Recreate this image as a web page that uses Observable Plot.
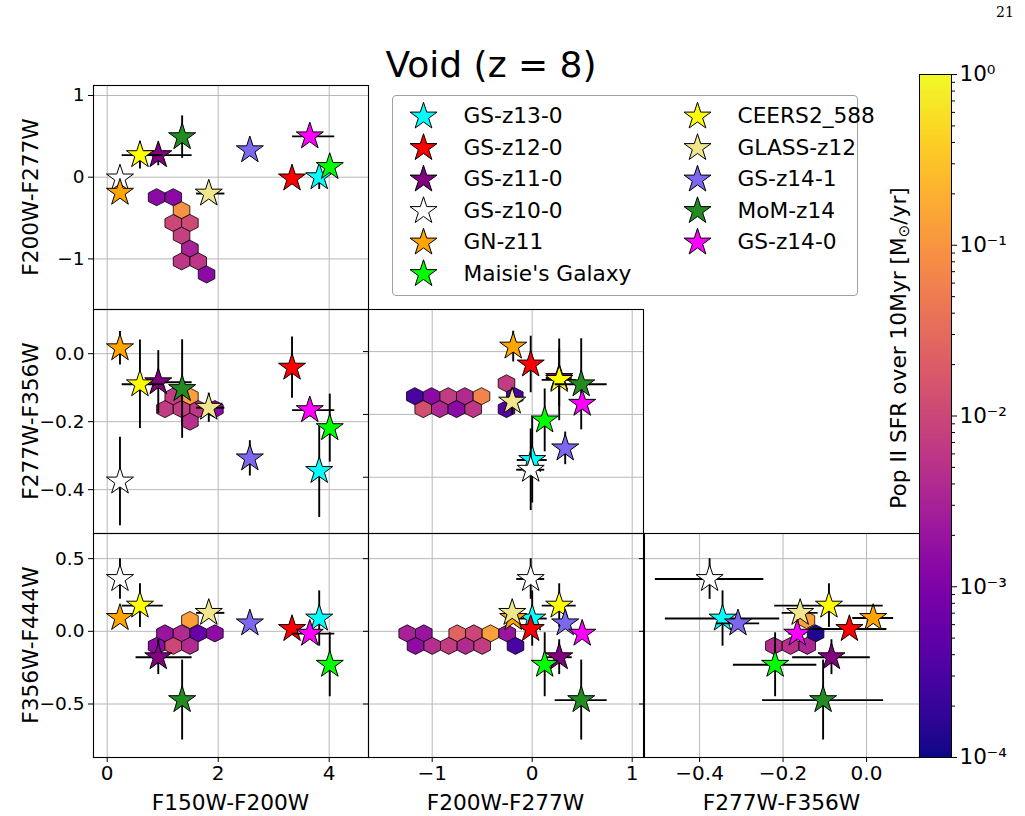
<!DOCTYPE html>
<html>
<head>
<meta charset="utf-8">
<script src="https://cdn.jsdelivr.net/npm/d3@7"></script>
<script src="https://cdn.jsdelivr.net/npm/@observablehq/plot@0.6"></script>
<style>
  body { margin: 0; background: #fff; }
  #fig { position: relative; width: 1025px; height: 816px; overflow: hidden; font-family: "DejaVu Sans", sans-serif; color: #000; }
  #fig > * { position: absolute; }
  .lbl { white-space: nowrap; line-height: 1; transform-origin: 50% 50%; }
  .legend-box { border: 1px solid #a0a0a0; border-radius: 4px; background: rgba(255,255,255,0.8); box-sizing: border-box; }
</style>
</head>
<body>
<div id="fig"></div>
<script>
// ---- Observed galaxies (legend order) ----
const galaxies = ["GS-z13-0", "GS-z12-0", "GS-z11-0", "GS-z10-0", "GN-z11", "Maisie's Galaxy",
                  "CEERS2_588", "GLASS-z12", "GS-z14-1", "MoM-z14", "GS-z14-0"];
const galaxyColors = ["#00ffff", "#ff0000", "#800080", "#ffffff", "#ffa500", "#00ff00",
                      "#ffff00", "#f0e68c", "#7b68ee", "#228b22", "#ff00ff"];

// colours (mag) and their uncertainties
const f150_f200      = [3.82, 3.33, 0.92, 0.23, 0.23, 4.01, 0.59, 1.83, 2.57, 1.35, 3.65];
const f150_f200_errLo = [0.05, 0.05, 0.40, 0.05, 0.05, 0.05, 0.32, 0.22, 0.05, 0.05, 0.31];
const f150_f200_errHi = [0.05, 0.05, 0.61, 0.05, 0.05, 0.05, 0.42, 0.29, 0.05, 0.05, 0.45];
const f200_f277      = [0.00, -0.015, 0.27, -0.015, -0.19, 0.125, 0.27, -0.20, 0.33, 0.49, 0.50];
const f200_f277_err  = [0.15, 0.04, 0.13, 0.14, 0.04, 0.04, 0.17, 0.05, 0.04, 0.26, 0.04];
const f277_f356      = [-0.345, -0.041, -0.084, -0.376, 0.016, -0.219, -0.090, -0.159, -0.308, -0.104, -0.166];
const f277_f356_err  = [0.137, 0.090, 0.093, 0.130, 0.049, 0.100, 0.130, 0.043, 0.052, 0.145, 0.020];
const f356_f444      = [0.088, 0.016, -0.178, 0.360, 0.092, -0.230, 0.177, 0.127, 0.055, -0.473, -0.016];
const f356_f444_err  = [0.19, 0.04, 0.12, 0.14, 0.04, 0.22, 0.15, 0.04, 0.04, 0.275, 0.03];

// ---- Simulated void galaxies, hex-binned: [x colour, y colour, Pop II SFR (Msun/yr)] ----
const hexF150F200vsF200F277 = [
  [0.89, -0.245, 1.4e-3], [1.19, -0.245, 1.4e-3],
  [1.34, -0.405, 9e-2],
  [1.19, -0.56, 1.0e-2], [1.49, -0.56, 1.1e-2],
  [1.34, -0.715, 8e-3],
  [1.49, -0.875, 3e-3],
  [1.34, -1.03, 6e-3], [1.64, -1.03, 6e-3],
  [1.79, -1.19, 1.4e-3]
];
const hexF150F200vsF277F356 = [
  [1.19, -0.126, 7e-3], [1.49, -0.126, 1.3e-1],
  [1.04, -0.163, 7e-3], [1.34, -0.163, 7e-3], [1.64, -0.163, 6e-3], [1.94, -0.163, 1.5e-3],
  [1.49, -0.200, 5e-3]
];
const hexF200F277vsF277F356 = [
  [-0.257, -0.101, 7e-3],
  [-1.174, -0.142, 3e-4], [-1.007, -0.142, 1.4e-3], [-0.840, -0.142, 7e-3], [-0.674, -0.142, 4e-3],
  [-0.507, -0.142, 6.3e-2], [-0.174, -0.142, 3e-4],
  [-1.090, -0.183, 1.3e-2], [-0.924, -0.183, 3.5e-3], [-0.757, -0.183, 1.4e-3], [-0.590, -0.183, 6e-3],
  [-0.257, -0.183, 4e-4]
];
const hexF150F200vsF356F444 = [
  [1.49, 0.078, 1.3e-1],
  [1.04, -0.014, 2e-3], [1.34, -0.014, 4e-3], [1.64, -0.014, 6e-4], [1.94, -0.014, 1.5e-3],
  [0.89, -0.100, 1.5e-3], [1.19, -0.100, 1.0e-2], [1.49, -0.100, 4e-3]
];
const hexF200F277vsF356F444 = [
  [-1.250, -0.014, 3e-3], [-1.084, -0.014, 2e-3], [-0.750, -0.014, 2.5e-2], [-0.584, -0.014, 1.0e-2],
  [-0.417, -0.014, 1.3e-1], [-0.250, -0.014, 2e-3],
  [-1.167, -0.100, 1.5e-3], [-1.000, -0.100, 4.5e-3], [-0.834, -0.100, 7e-3], [-0.667, -0.100, 4e-3],
  [-0.500, -0.100, 7e-3], [-0.167, -0.100, 3e-4]
];
const hexF277F356vsF356F444 = [
  [-0.144, 0.078, 1.3e-1],
  [-0.122, -0.014, 1.3e-4],
  [-0.222, -0.100, 4.5e-3], [-0.182, -0.100, 5e-3], [-0.142, -0.100, 3.5e-3]
];

// ---- Axis labels / ticks ----
const colourNames = {c1: "F150W-F200W", c2: "F200W-F277W", c3: "F277W-F356W", c4: "F356W-F444W"};
const cbarMajor = [-4, -3, -2, -1, 0];

// ---- table built from the arrays ----
const rows = galaxies.map((name, i) => ({
  name, color: galaxyColors[i],
  c1: f150_f200[i], c1Lo: f150_f200[i] - f150_f200_errLo[i], c1Hi: f150_f200[i] + f150_f200_errHi[i],
  c2: f200_f277[i], c2Lo: f200_f277[i] - f200_f277_err[i], c2Hi: f200_f277[i] + f200_f277_err[i],
  c3: f277_f356[i], c3Lo: f277_f356[i] - f277_f356_err[i], c3Hi: f277_f356[i] + f277_f356_err[i],
  c4: f356_f444[i], c4Lo: f356_f444[i] - f356_f444_err[i], c4Hi: f356_f444[i] + f356_f444_err[i]
}));

const fig = document.getElementById("fig");
const FONT = "DejaVu Sans";
const gridColor = "#b8b8b8";
const TICK_SIZE = 18.5, LABEL_SIZE = 21.7;

// matplotlib-style hexbin cell: pointy-top hexagon, slightly taller than wide
const hexSymbol = {
  draw(context, size) {
    const rx = Math.sqrt(size / Math.PI), ry = rx * 1.03;
    context.moveTo(0, -ry);
    context.lineTo(rx, -ry / 2);
    context.lineTo(rx, ry / 2);
    context.lineTo(0, ry);
    context.lineTo(-rx, ry / 2);
    context.lineTo(-rx, -ry / 2);
    context.closePath();
  }
};

const colX = [93, 368, 644], rowY = [85, 309, 533];
const PW = 275, PH = 224;

const fmtInt = d3.format("d"), fmt1 = d3.format(".1f");

const panels = [
  {row: 0, col: 0, x: "c1", y: "c2", xDomain: [-0.247, 4.708], yDomain: [-1.619, 1.122],
   xTicks: [0, 2, 4], yTicks: [-1, 0, 1], xFmt: fmtInt, yFmt: fmtInt, hexes: hexF150F200vsF200F277},
  {row: 1, col: 0, x: "c1", y: "c3", xDomain: [-0.247, 4.708], yDomain: [-0.529, 0.130],
   xTicks: [0, 2, 4], yTicks: [-0.4, -0.2, 0], xFmt: fmtInt, yFmt: fmt1, hexes: hexF150F200vsF277F356},
  {row: 1, col: 1, x: "c2", y: "c3", xDomain: [-1.637, 1.113], yDomain: [-0.579, 0.134],
   xTicks: [-1, 0, 1], yTicks: [-0.4, -0.2, 0], xFmt: fmtInt, yFmt: fmt1, hexes: hexF200F277vsF277F356},
  {row: 2, col: 0, x: "c1", y: "c4", xDomain: [-0.247, 4.708], yDomain: [-0.868, 0.673],
   xTicks: [0, 2, 4], yTicks: [-0.5, 0, 0.5], xFmt: fmtInt, yFmt: fmt1, hexes: hexF150F200vsF356F444},
  {row: 2, col: 1, x: "c2", y: "c4", xDomain: [-1.637, 1.113], yDomain: [-0.868, 0.673],
   xTicks: [-1, 0, 1], yTicks: [-0.5, 0, 0.5], xFmt: fmtInt, yFmt: fmt1, hexes: hexF200F277vsF356F444},
  {row: 2, col: 2, x: "c3", y: "c4", xDomain: [-0.532, 0.127], yDomain: [-0.868, 0.673],
   xTicks: [-0.4, -0.2, 0], yTicks: [-0.5, 0, 0.5], xFmt: fmt1, yFmt: fmt1, hexes: hexF277F356vsF356F444}
];

function place(el, left, top) {
  el.style.left = left + "px";
  el.style.top = top + "px";
  fig.append(el);
  return el;
}

function drawPanel(p) {
  const ml = p.col === 0 ? 70 : 10, mr = 2, mt = 2, mb = p.row === 2 ? 40 : 2;
  const marks = [
    Plot.gridX(p.xTicks, {stroke: gridColor, strokeOpacity: 1, strokeWidth: 1}),
    Plot.gridY(p.yTicks, {stroke: gridColor, strokeOpacity: 1, strokeWidth: 1}),
    Plot.dot(p.hexes, {x: d => d[0], y: d => d[1], fill: d => d[2], symbol: hexSymbol, r: 8.3,
                       stroke: "black", strokeWidth: 0.8})
  ];
  for (const g of rows) {
    marks.push(
      Plot.ruleY([g], {y: p.y, x1: p.x + "Lo", x2: p.x + "Hi", stroke: "black", strokeWidth: 1.9}),
      Plot.ruleX([g], {x: p.x, y1: p.y + "Lo", y2: p.y + "Hi", stroke: "black", strokeWidth: 1.9}),
      Plot.dot([g], {x: p.x, y: p.y, symbol: "star", r: 8.5, fill: g.color, stroke: "black", strokeWidth: 1})
    );
  }
  marks.push(
    Plot.frame({stroke: "black", strokeWidth: 1.1}),
    Plot.axisY(p.yTicks, {anchor: "left", tickSize: 5, tickPadding: 4, label: null,
                          tickFormat: p.col === 0 ? p.yFmt : () => "", fontSize: TICK_SIZE})
  );
  if (p.row === 2) {
    marks.push(Plot.axisX(p.xTicks, {anchor: "bottom", tickSize: 5, tickPadding: 3, label: null,
                                     tickFormat: p.xFmt, fontSize: 20}));
  }
  const svg = Plot.plot({
    width: PW + ml + mr, height: PH + mt + mb,
    marginLeft: ml, marginRight: mr, marginTop: mt, marginBottom: mb,
    x: {domain: p.xDomain, axis: null},
    y: {domain: p.yDomain, axis: null},
    color: {type: "log", scheme: "plasma", domain: [1e-4, 1]},
    style: {background: "transparent", overflow: "visible", fontFamily: FONT, fontSize: TICK_SIZE + "px", color: "black"},
    marks
  });
  place(svg, colX[p.col] - ml, rowY[p.row] - mt);
}

panels.forEach(drawPanel);

// ---- text helpers ----
function text(str, cx, cy, size, rotate = 0, family = FONT, html = false) {
  const d = document.createElement("div");
  d.className = "lbl";
  if (html) d.innerHTML = str; else d.textContent = str;
  d.style.fontSize = size + "px";
  d.style.fontFamily = family;
  d.style.transform = `translate(-50%, -50%) rotate(${rotate}deg)`;
  return place(d, cx, cy);
}

// axis titles
text(colourNames.c1, colX[0] + PW / 2, 803, LABEL_SIZE);
text(colourNames.c2, colX[1] + PW / 2, 803, LABEL_SIZE);
text(colourNames.c3, colX[2] + PW / 2, 803, LABEL_SIZE);
text(colourNames.c2, 31, rowY[0] + PH / 2, LABEL_SIZE, -90);
text(colourNames.c3, 31, rowY[1] + PH / 2, LABEL_SIZE, -90);
text(colourNames.c4, 31, rowY[2] + PH / 2, LABEL_SIZE, -90);

// title and page number
text("Void (z = 8)", 491, 65, 36);
text("21", 1005, 12, 14, 0, "DejaVu Serif");

// ---- legend ----
const legendBox = document.createElement("div");
legendBox.className = "legend-box";
legendBox.style.width = "466px";
legendBox.style.height = "201px";
place(legendBox, 392, 95);

const legendItems = galaxies.map((name, i) => ({name, color: galaxyColors[i], col: i < 6 ? 0 : 1, row: i < 6 ? i : i - 6}));
const legendMarks = [];
for (const item of legendItems) {
  legendMarks.push(
    Plot.dot([item], {x: "col", y: "row", symbol: "star", r: 8.5, fill: item.color, stroke: "black", strokeWidth: 1}),
    Plot.text([item], {x: "col", y: "row", text: "name", dx: 40, textAnchor: "start", fontSize: LABEL_SIZE, fill: "black"})
  );
}
const legendSvg = Plot.plot({
  width: 466, height: 201, margin: 0,
  x: {domain: [0, 1], range: [31, 305], axis: null},
  y: {domain: [0, 5], range: [21, 178.5], axis: null},
  style: {background: "transparent", overflow: "visible", fontFamily: FONT, fontSize: LABEL_SIZE + "px"},
  marks: legendMarks
});
place(legendSvg, 392, 95);

// ---- colour bar (log10 of Pop II SFR) ----
const sup = s => String(s).replace(/[-0-9]/g, c => ({"-": "⁻", "0": "⁰", "1": "¹", "2": "²", "3": "³", "4": "⁴"})[c]);
const cbarMinor = d3.range(-4, 0).flatMap(k => d3.range(2, 10).map(m => k + Math.log10(m)));
const cbTop = 74, cbBottom = 757, cbLeft = 919, cbW = 32;
const cbSvg = Plot.plot({
  width: cbW + 2 + 70, height: cbBottom - cbTop + 24,
  marginLeft: 2, marginRight: 70, marginTop: 12, marginBottom: 12,
  x: {domain: [0, 1], axis: null},
  y: {domain: [-4, 0], axis: null},
  color: {scheme: "plasma", domain: [-4, 0]},
  style: {background: "transparent", overflow: "visible", fontFamily: FONT, fontSize: "21px", color: "black"},
  marks: [
    Plot.raster({x1: 0, x2: 1, y1: -4, y2: 0, width: 1, height: 600, fill: (x, y) => y, imageRendering: "auto"}),
    Plot.frame({stroke: "black", strokeWidth: 1}),
    Plot.axisY(cbarMinor, {anchor: "right", tickSize: 3, tickFormat: () => "", label: null}),
    Plot.axisY(cbarMajor, {anchor: "right", tickSize: 5, tickPadding: 3, label: null,
                           tickFormat: d => "10" + sup(d), fontSize: 21.5})
  ]
});
place(cbSvg, cbLeft - 2, cbTop - 12);

text("Pop II SFR over 10Myr [M<sub style=\"font-size:15px;vertical-align:-3px\">⊙</sub>/yr]", 900, 348, LABEL_SIZE, -90, FONT, true);
</script>
</body>
</html>
